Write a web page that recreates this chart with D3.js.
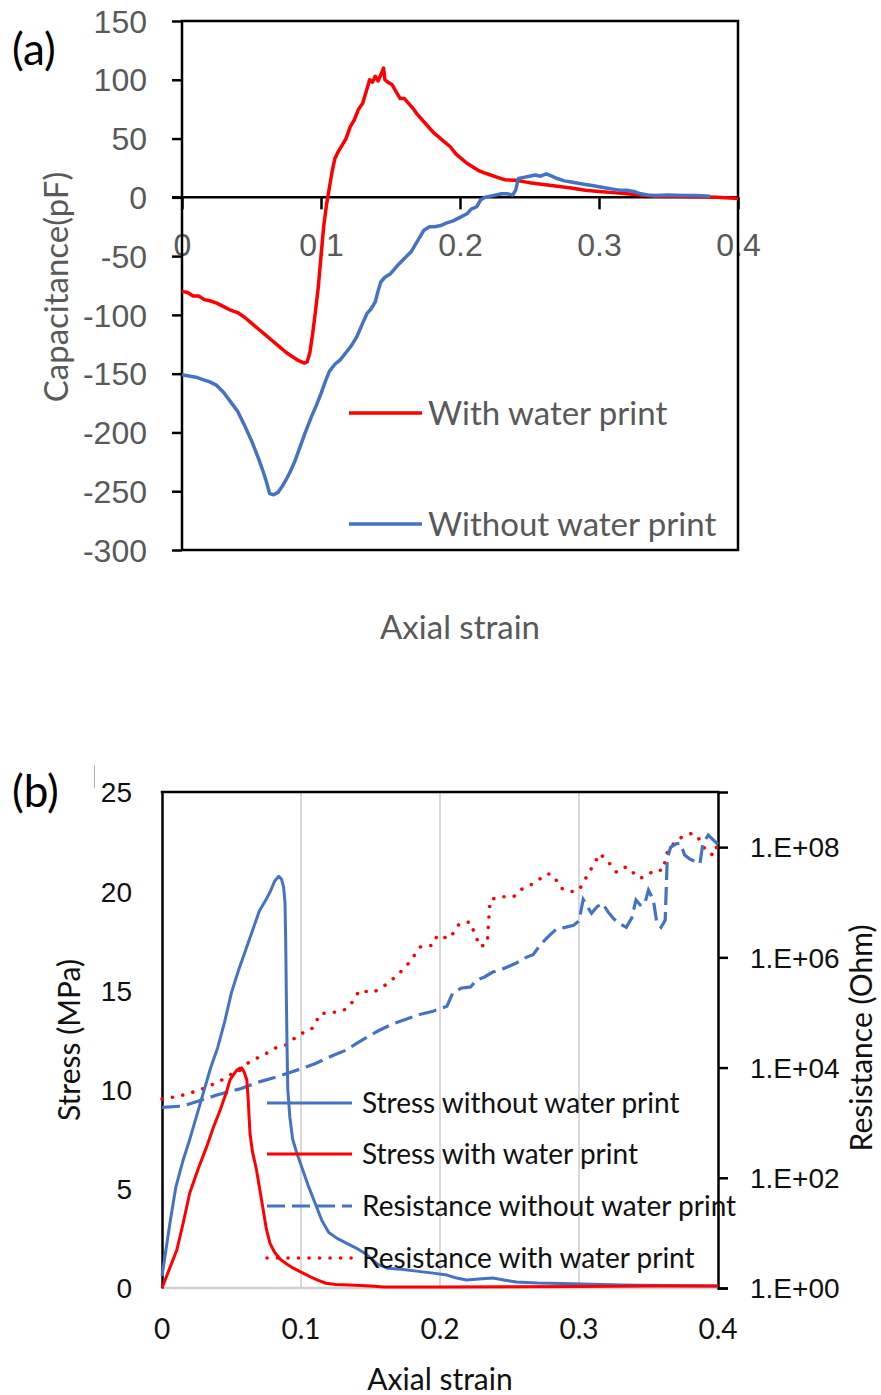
<!DOCTYPE html>
<html>
<head>
<meta charset="utf-8">
<script src="https://cdn.jsdelivr.net/npm/d3@7"></script>
<style>
  html, body { margin: 0; padding: 0; background: #fff; }
  svg { display: block; font-family: Lato, "Open Sans", sans-serif; }
</style>
</head>
<body>
<svg id="fig" width="881" height="1395"></svg>
<script>
// ---------- Panel (a): capacitance vs axial strain ----------
const capTicksY = [150, 100, 50, 0, -50, -100, -150, -200, -250, -300];
const strainTicks = [0, 0.1, 0.2, 0.3, 0.4];
const capSeriesNames = ["With water print", "Without water print"];

const capWithStrain = [0.000,0.004,0.008,0.012,0.016,0.020,0.025,0.030,0.035,0.040,0.045,0.050,0.055,0.060,0.065,0.070,0.075,0.080,0.084,0.088,0.090,0.092,0.094,0.096,0.098,0.100,0.102,0.104,0.106,0.108,0.110,0.112,0.115,0.118,0.121,0.124,0.127,0.130,0.133,0.135,0.137,0.139,0.141,0.143,0.145,0.146,0.148,0.151,0.154,0.157,0.160,0.163,0.166,0.169,0.172,0.175,0.178,0.181,0.185,0.189,0.193,0.197,0.201,0.205,0.209,0.213,0.217,0.222,0.227,0.232,0.240,0.250,0.260,0.270,0.280,0.290,0.300,0.310,0.320,0.330,0.340,0.355,0.370,0.385,0.400];
const capWithValue = [-80,-81,-84,-84,-87,-88,-90,-93,-96,-98,-102,-107,-112,-117,-122,-127,-132,-136,-139,-141,-140,-132,-116,-97,-77,-50,-24,-6,8,22,33,38,44,50,60,66,75,80,92,100,98,103,99,104,110,100,98,96,90,84,84,80,76,71,67,63,59,55,51,47,43,37,33,29,26,23,21,19,17,15,14.5,12.5,11,9.5,8,6,5,4,3,2,1,1,0.5,0,-1];

const capWithoutStrain = [0.000,0.005,0.010,0.015,0.020,0.025,0.030,0.035,0.040,0.045,0.050,0.055,0.058,0.061,0.063,0.066,0.069,0.072,0.075,0.078,0.081,0.085,0.089,0.093,0.097,0.100,0.103,0.106,0.110,0.114,0.118,0.122,0.126,0.130,0.133,0.136,0.139,0.141,0.143,0.146,0.150,0.155,0.160,0.165,0.170,0.174,0.178,0.182,0.186,0.190,0.195,0.200,0.205,0.208,0.212,0.215,0.218,0.222,0.226,0.230,0.234,0.238,0.240,0.242,0.246,0.250,0.254,0.258,0.262,0.266,0.270,0.275,0.280,0.285,0.290,0.295,0.300,0.305,0.310,0.315,0.320,0.325,0.330,0.335,0.340,0.350,0.360,0.370,0.380];
const capWithoutValue = [-151,-152,-153,-155,-157,-160,-166,-174,-182,-194,-207,-222,-232,-243,-252,-253,-251,-246,-240,-233,-225,-212,-199,-187,-176,-167,-157,-148,-142,-138,-132,-126,-118,-107,-99,-95,-89,-80,-72,-68,-65,-58,-52,-46,-36,-28,-25,-25,-24,-22,-20,-17,-14,-10,-8,-2,0,1,2,3,3,2,6,16,17,18,19,18,20,18,16,14,13,12,11,10,9,8,7,6,6,5,3,2,1.5,2,1.5,1.5,1];

// ---------- Panel (b): stress and resistance vs axial strain ----------
const stressTicks = [0, 5, 10, 15, 20, 25];
const resistTicks = [1e0, 1e2, 1e4, 1e6, 1e8];
const resistTickLabels = ["1.E+00", "1.E+02", "1.E+04", "1.E+06", "1.E+08"];
const bSeriesNames = ["Stress without water print", "Stress with water print", "Resistance without water print", "Resistance with water print"];

const stressWithoutStrain = [0.000,0.003,0.006,0.010,0.015,0.020,0.025,0.030,0.035,0.040,0.045,0.050,0.055,0.060,0.065,0.070,0.075,0.078,0.081,0.084,0.086,0.0875,0.0885,0.089,0.0895,0.090,0.0905,0.092,0.094,0.097,0.100,0.105,0.110,0.115,0.120,0.126,0.133,0.140,0.147,0.155,0.162,0.172,0.183,0.195,0.205,0.212,0.219,0.228,0.238,0.246,0.255,0.270,0.296,0.330,0.360,0.400];
const stressWithoutValue = [0.6,2.0,3.4,5.1,6.4,7.5,8.7,9.9,11.1,12.1,13.4,14.9,16.0,17.0,18.0,19.0,19.6,20.0,20.5,20.75,20.6,20.2,19.4,17.5,14.5,12.0,10.0,8.6,7.5,6.8,6.2,5.2,4.3,3.4,2.8,2.5,2.25,2.0,1.7,1.2,1.0,0.95,0.85,0.75,0.65,0.5,0.4,0.45,0.5,0.4,0.3,0.25,0.22,0.15,0.12,0.1];

const stressWithStrain = [0.000,0.005,0.0106,0.015,0.020,0.026,0.032,0.037,0.042,0.046,0.049,0.052,0.054,0.056,0.0573,0.059,0.061,0.062,0.0633,0.065,0.068,0.0705,0.0729,0.075,0.0777,0.081,0.085,0.090,0.0945,0.100,0.1065,0.112,0.118,0.125,0.135,0.150,0.160,0.200,0.250,0.300,0.350,0.400];
const stressWithValue = [0.0,0.9,1.9,3.2,4.8,6.0,7.1,8.1,9.0,9.8,10.5,10.8,11.0,10.95,11.1,10.9,10.5,9.5,7.8,6.9,5.95,4.9,3.9,3.0,2.25,1.8,1.45,1.2,1.0,0.8,0.57,0.4,0.24,0.18,0.15,0.1,0.05,0.05,0.06,0.08,0.1,0.1];

const resistWithoutStrain = [0.000,0.015,0.027,0.040,0.056,0.070,0.081,0.092,0.100,0.110,0.123,0.133,0.140,0.147,0.156,0.166,0.176,0.186,0.195,0.200,0.205,0.209,0.215,0.222,0.226,0.232,0.238,0.246,0.255,0.262,0.267,0.272,0.278,0.284,0.290,0.296,0.300,0.303,0.306,0.309,0.313,0.317,0.321,0.325,0.330,0.334,0.338,0.341,0.344,0.347,0.350,0.3535,0.356,0.359,0.362,0.3635,0.366,0.370,0.373,0.376,0.380,0.384,0.387,0.389,0.393,0.396,0.400];
const resistWithoutValue = [1.9e3,2.0e3,2.5e3,3.2e3,4.1e3,5.5e3,6.6e3,8.1e3,9.5e3,1.17e4,1.66e4,2.1e4,2.75e4,3.5e4,4.7e4,6.2e4,7.6e4,9.3e4,1.05e5,1.17e5,1.3e5,2.2e5,2.75e5,2.9e5,3.8e5,4.4e5,5.4e5,6.3e5,7.9e5,1.0e6,1.12e6,1.66e6,2.4e6,3.3e6,3.5e6,3.8e6,4.6e6,1.12e7,8.3e6,6.3e6,8.3e6,9.5e6,6.6e6,5.0e6,4.0e6,3.5e6,5.2e6,1.1e7,8.9e6,8.9e6,1.66e7,1.1e7,4.2e6,3.5e6,4.7e6,6.3e7,1.0e8,1.15e8,1.17e8,7.2e7,6.0e7,5.5e7,5.0e7,1.12e8,1.66e8,1.4e8,1.12e8];

const resistWithStrain = [0.000,0.010,0.018,0.028,0.037,0.045,0.051,0.058,0.066,0.073,0.080,0.0897,0.0993,0.105,0.109,0.1137,0.123,0.130,0.135,0.142,0.152,0.162,0.171,0.178,0.186,0.195,0.198,0.203,0.207,0.214,0.2216,0.226,0.229,0.234,0.236,0.243,0.253,0.2575,0.2675,0.277,0.2815,0.287,0.294,0.300,0.3055,0.315,0.320,0.327,0.334,0.344,0.351,0.3535,0.3606,0.363,0.370,0.3775,0.382,0.386,0.392,0.397,0.399];
const resistWithValue = [2.7e3,2.95e3,3.3e3,4.0e3,5.0e3,6.3e3,7.9e3,1.05e4,1.4e4,1.66e4,2.2e4,2.6e4,4.1e4,4.5e4,5.4e4,9.5e4,1.0e5,1.07e5,1.3e5,2.5e5,2.3e5,3.3e5,5.2e5,8.1e5,1.55e6,1.66e6,2.5e6,2.3e6,2.2e6,4.1e6,4.4e6,2.3e6,1.55e6,1.8e6,1.1e7,1.26e7,1.26e7,1.66e7,2.2e7,3.3e7,3.1e7,1.8e7,1.55e7,1.66e7,2.9e7,7.6e7,5.8e7,3.5e7,4.4e7,2.7e7,3.3e7,3.8e7,3.8e7,7.6e7,1.35e8,1.66e8,1.8e8,1.45e8,8.1e7,7.1e7,1.0e8];

const RED = "#FF0000", BLUE = "#4472C4";
const zip = (xs, ys) => xs.map((x, i) => [x, ys[i]]);
const strainFmt = d => d === 0 ? "0" : d3.format(".1f")(d);

const svg = d3.select("#fig");

// ================= Panel (a) =================
(function () {
  const gray = "#595959";
  const tickFs = 32, fs = 33;
  const x = d3.scaleLinear().domain([0, 0.4]).range([182, 738]);
  const y = d3.scaleLinear().domain([-300, 150]).range([550, 21]);
  const g = svg.append("g");

  // y tick labels and ticks (plain hyphen minus, as in the source chart)
  const yAxis = g.append("g").attr("transform", `translate(${x(0)},0)`)
    .call(d3.axisLeft(y).tickValues(capTicksY).tickSize(10).tickPadding(25).tickFormat(d => String(d)));
  yAxis.select(".domain").remove();
  yAxis.selectAll("line").attr("stroke", "#000").attr("stroke-width", 2.5);
  yAxis.selectAll("text").attr("fill", gray).attr("font-size", tickFs).attr("font-family", null).attr("dy", "0.35em");

  // x axis drawn through zero
  const xAxis = g.append("g").attr("transform", `translate(0,${y(0)})`)
    .call(d3.axisBottom(x).tickValues(strainTicks).tickSize(12).tickFormat(strainFmt));
  xAxis.select(".domain").remove();
  xAxis.selectAll("line").attr("stroke", "#000").attr("stroke-width", 2.5);
  xAxis.selectAll("text").attr("fill", gray).attr("font-size", tickFs).attr("font-family", null)
    .attr("y", 47).attr("dy", "0.35em");
  xAxis.lower(); yAxis.lower();

  // plot frame and zero line
  g.append("rect").attr("x", x(0)).attr("y", y(150)).attr("width", x(0.4) - x(0)).attr("height", y(-300) - y(150))
    .attr("fill", "none").attr("stroke", "#000").attr("stroke-width", 2.5);
  g.append("line").attr("x1", x(0) - 10).attr("x2", x(0.4)).attr("y1", y(0)).attr("y2", y(0))
    .attr("stroke", "#000").attr("stroke-width", 2.5);

  // curves
  const line = d3.line().x(d => x(d[0])).y(d => y(d[1]));
  g.append("path").datum(zip(capWithStrain, capWithValue)).attr("d", line)
    .attr("fill", "none").attr("stroke", RED).attr("stroke-width", 3.5).attr("stroke-linejoin", "round");
  g.append("path").datum(zip(capWithoutStrain, capWithoutValue)).attr("d", line)
    .attr("fill", "none").attr("stroke", BLUE).attr("stroke-width", 3.5).attr("stroke-linejoin", "round");

  // legend
  const legY = [413, 524];
  const legCol = [RED, BLUE];
  capSeriesNames.forEach((name, i) => {
    g.append("line").attr("x1", 349).attr("x2", 422).attr("y1", legY[i]).attr("y2", legY[i])
      .attr("stroke", legCol[i]).attr("stroke-width", 3.5);
    g.append("text").attr("x", 428).attr("y", legY[i]).attr("dy", "0.35em")
      .attr("fill", gray).attr("font-size", fs).text(name);
  });

  // axis titles
  g.append("text").attr("transform", "translate(56,287) rotate(-90)").attr("text-anchor", "middle")
    .attr("dy", "0.35em").attr("fill", gray).attr("font-size", fs).text("Capacitance(pF)");
  g.append("text").attr("x", 460).attr("y", 627).attr("text-anchor", "middle").attr("dy", "0.35em")
    .attr("fill", gray).attr("font-size", fs).text("Axial strain");

  g.append("text").attr("x", 12).attr("y", 50).attr("dy", "0.35em").attr("font-size", 44).attr("fill", "#000").text("(a)");
})();

// ================= Panel (b) =================
(function () {
  const ink = "#111";
  const fs = 28, titleFs = 30;
  const x = d3.scaleLinear().domain([0, 0.4]).range([162, 718]);
  const y = d3.scaleLinear().domain([0, 25]).range([1288, 792]);
  const r = d3.scaleLog().domain([1, 1e9]).range([1288, 792]);
  const g = svg.append("g");

  // vertical gridlines and baseline
  g.selectAll("line.grid").data([0.1, 0.2, 0.3]).join("line").attr("class", "grid")
    .attr("x1", d => x(d)).attr("x2", d => x(d)).attr("y1", y(25)).attr("y2", y(0))
    .attr("stroke", "#d9d9d9").attr("stroke-width", 2);
  g.append("line").attr("x1", x(0)).attr("x2", x(0.4)).attr("y1", y(0)).attr("y2", y(0))
    .attr("stroke", "#d0d0d0").attr("stroke-width", 2.5);

  // left axis
  const yAxis = g.append("g").attr("transform", `translate(${x(0)},0)`)
    .call(d3.axisLeft(y).tickValues(stressTicks).tickSize(0).tickPadding(30));
  yAxis.select(".domain").attr("stroke", "#000").attr("stroke-width", 2.5);
  yAxis.selectAll("text").attr("fill", ink).attr("font-size", fs).attr("font-family", null).attr("dy", "0.35em");

  // right axis (log)
  const rAxis = g.append("g").attr("transform", `translate(${x(0.4)},0)`)
    .call(d3.axisRight(r).tickValues(resistTicks).tickSize(10).tickPadding(22)
      .tickFormat((d, i) => resistTickLabels[i]));
  rAxis.select(".domain").attr("stroke", "#000").attr("stroke-width", 2.5);
  rAxis.selectAll("line").attr("stroke", "#000").attr("stroke-width", 2.5);
  rAxis.selectAll("text").attr("fill", ink).attr("font-size", fs).attr("font-family", null).attr("dy", "0.35em");

  // top border
  g.append("line").attr("x1", x(0) - 1.25).attr("x2", x(0.4) + 1.25).attr("y1", y(25)).attr("y2", y(25))
    .attr("stroke", "#000").attr("stroke-width", 2.5);

  // x tick labels
  g.selectAll("text.xt").data(strainTicks).join("text").attr("class", "xt")
    .attr("x", d => x(d)).attr("y", 1329).attr("dy", "0.35em").attr("text-anchor", "middle")
    .attr("fill", ink).attr("font-size", fs).text(strainFmt);

  // curves
  const sLine = d3.line().x(d => x(d[0])).y(d => y(d[1]));
  const rLine = d3.line().x(d => x(d[0])).y(d => r(d[1]));
  g.append("path").datum(zip(resistWithStrain, resistWithValue)).attr("d", rLine)
    .attr("fill", "none").attr("stroke", RED).attr("stroke-width", 3.5)
    .attr("stroke-dasharray", "0.1 10.4").attr("stroke-linecap", "round");
  g.append("path").datum(zip(resistWithoutStrain, resistWithoutValue)).attr("d", rLine)
    .attr("fill", "none").attr("stroke", BLUE).attr("stroke-width", 3.2)
    .attr("stroke-dasharray", "18 7");
  g.append("path").datum(zip(stressWithoutStrain, stressWithoutValue)).attr("d", sLine)
    .attr("fill", "none").attr("stroke", BLUE).attr("stroke-width", 3).attr("stroke-linejoin", "round");
  g.append("path").datum(zip(stressWithStrain, stressWithValue)).attr("d", sLine)
    .attr("fill", "none").attr("stroke", RED).attr("stroke-width", 3).attr("stroke-linejoin", "round");

  // legend (no background)
  const legY = [1103, 1154, 1206, 1258];
  const legCol = [BLUE, RED, BLUE, RED];
  const legDash = [null, null, "18 7", "0.1 10.4"];
  bSeriesNames.forEach((name, i) => {
    const l = g.append("line").attr("x1", 267).attr("x2", 352).attr("y1", legY[i]).attr("y2", legY[i])
      .attr("stroke", legCol[i]).attr("stroke-width", i === 3 ? 3.5 : 3);
    if (legDash[i]) l.attr("stroke-dasharray", legDash[i]);
    if (i === 3) l.attr("stroke-linecap", "round");
    g.append("text").attr("x", 362).attr("y", legY[i]).attr("dy", "0.35em")
      .attr("fill", ink).attr("font-size", fs).text(name);
  });

  // axis titles
  g.append("text").attr("transform", "translate(69,1040) rotate(-90)").attr("text-anchor", "middle")
    .attr("dy", "0.35em").attr("fill", ink).attr("font-size", titleFs).text("Stress (MPa)");
  g.append("text").attr("transform", "translate(861,1038) rotate(-90)").attr("text-anchor", "middle")
    .attr("dy", "0.35em").attr("fill", ink).attr("font-size", titleFs).text("Resistance (Ohm)");
  g.append("text").attr("x", 440).attr("y", 1379).attr("text-anchor", "middle").attr("dy", "0.35em")
    .attr("fill", ink).attr("font-size", titleFs).text("Axial strain");

  g.append("text").attr("x", 12).attr("y", 792).attr("dy", "0.35em").attr("font-size", 44).attr("fill", "#000").text("(b)");
  g.append("line").attr("x1", 94.5).attr("x2", 94.5).attr("y1", 765).attr("y2", 788)
    .attr("stroke", "#b0b0b0").attr("stroke-width", 1);
})();
</script>
</body>
</html>
